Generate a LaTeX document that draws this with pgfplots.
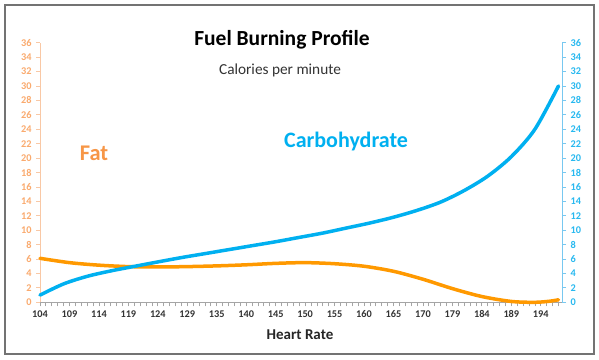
\documentclass[border=0pt]{standalone}
\usepackage{pgfplots}
\pgfplotsset{compat=1.18}
\usepackage{fontspec}
\setmainfont{Carlito}
\definecolor{fatline}{RGB}{255,153,0}
\definecolor{carbline}{RGB}{0,176,240}
\definecolor{fattext}{RGB}{247,150,70}
\definecolor{fattick}{RGB}{250,170,110}
\definecolor{fataxis}{RGB}{249,200,165}
\definecolor{carbtick}{RGB}{40,185,240}
\definecolor{carbaxis}{RGB}{120,200,240}
\definecolor{xaxisgray}{RGB}{165,165,165}
\begin{document}
\begin{tikzpicture}
\begin{scope}[x=1bp,y=1bp]
\useasboundingbox (0,0) rectangle (599,359);
\fill[white] (0,0) rectangle (599,359);
\draw[black!55, line width=1.2bp] (5,5) rectangle (594,354);
\end{scope}
\pgfplotsset{
  common/.style={
    at={(40bp,56.7bp)}, anchor=south west,
    scale only axis, width=522bp, height=259.6bp,
    xmin=0, xmax=88.6, ymin=0, ymax=36,
    ytick={0,2,...,36},
    /pgf/number format/assume math mode=true,
    ticklabel style={font=\fontsize{10.3bp}{12bp}\selectfont\bfseries},
    clip=false,
  }
}
% left axis with fat
\begin{axis}[common,
  axis y line*=left, axis x line*=bottom,
  xtick pos=bottom, ytick pos=left,
  xtick={0,1,...,88},
  xticklabels={104,,,,,109,,,,,114,,,,,119,,,,,124,,,,,129,,,,,135,,,,,140,,,,,145,,,,,150,,,,,155,,,,,160,,,,,165,,,,,170,,,,,179,,,,,184,,,,,189,,,,,194,,,},
  x axis line style={draw=xaxisgray, line width=0.9bp},
  y axis line style={draw=fataxis, line width=0.9bp},
  tick style={line width=0.8bp},
  xtick style={color=xaxisgray},
  ytick style={color=fataxis},
  xtick align=outside, ytick align=outside, major tick length=4bp,
  yticklabel style={text=fattick, xshift=-1bp},
  xticklabel style={text=black!80, yshift=-0.5bp},
]
\addplot[fatline, line width=3.5bp, smooth, tension=0.5, line cap=round, line join=round] coordinates {
(0,6.1) (5,5.5) (10,5.15) (15,4.95) (20,4.9) (25,4.95) (30,5.05) (35,5.2) (40,5.4)
(45,5.5) (50,5.35) (55,5.0) (60,4.3) (65,3.2) (70,1.9) (75,0.8) (80,0.12) (84,0.0) (86.5,0.15) (88,0.35)};
\end{axis}
% right axis with carbohydrate
\begin{axis}[common,
  axis y line*=right, axis x line=none,
  ytick pos=right,
  y axis line style={draw=carbaxis, line width=0.9bp},
  tick style={line width=0.8bp},
  ytick style={color=carbaxis},
  ytick align=outside, major tick length=4bp,
  yticklabel style={text=carbtick, xshift=1bp},
]
\addplot[carbline, line width=3.5bp, smooth, tension=0.5, line cap=round, line join=round] coordinates {
(0,1.0) (4,2.55) (8,3.6) (12,4.35) (16,4.98) (20,5.6) (24,6.2) (28,6.75) (32,7.3)
(36,7.85) (40,8.4) (44,9.0) (48,9.6) (52,10.3) (56,11.0) (60,11.8) (64,12.75)
(68,13.9) (72,15.5) (76,17.5) (80,20.2) (84,24.0) (88,30.0)};
\end{axis}
\begin{scope}[x=1bp,y=1bp]
\node[anchor=base, font=\fontsize{21.5bp}{24bp}\selectfont\bfseries] at (282,314) {Fuel Burning Profile};
\node[anchor=base, font=\fontsize{15.3bp}{17bp}\selectfont, text=black!80] at (280,285) {Calories per minute};
\node[anchor=base, font=\fontsize{22.4bp}{24bp}\selectfont\bfseries, text=fattext] at (94,199) {Fat};
\node[anchor=base, font=\fontsize{22bp}{24bp}\selectfont\bfseries, text=carbline] at (346,212) {Carbohydrate};
\node[anchor=base, font=\fontsize{15bp}{17bp}\selectfont\bfseries, text=black!85] at (300,20) {Heart Rate};
\end{scope}
\end{tikzpicture}
\end{document}
